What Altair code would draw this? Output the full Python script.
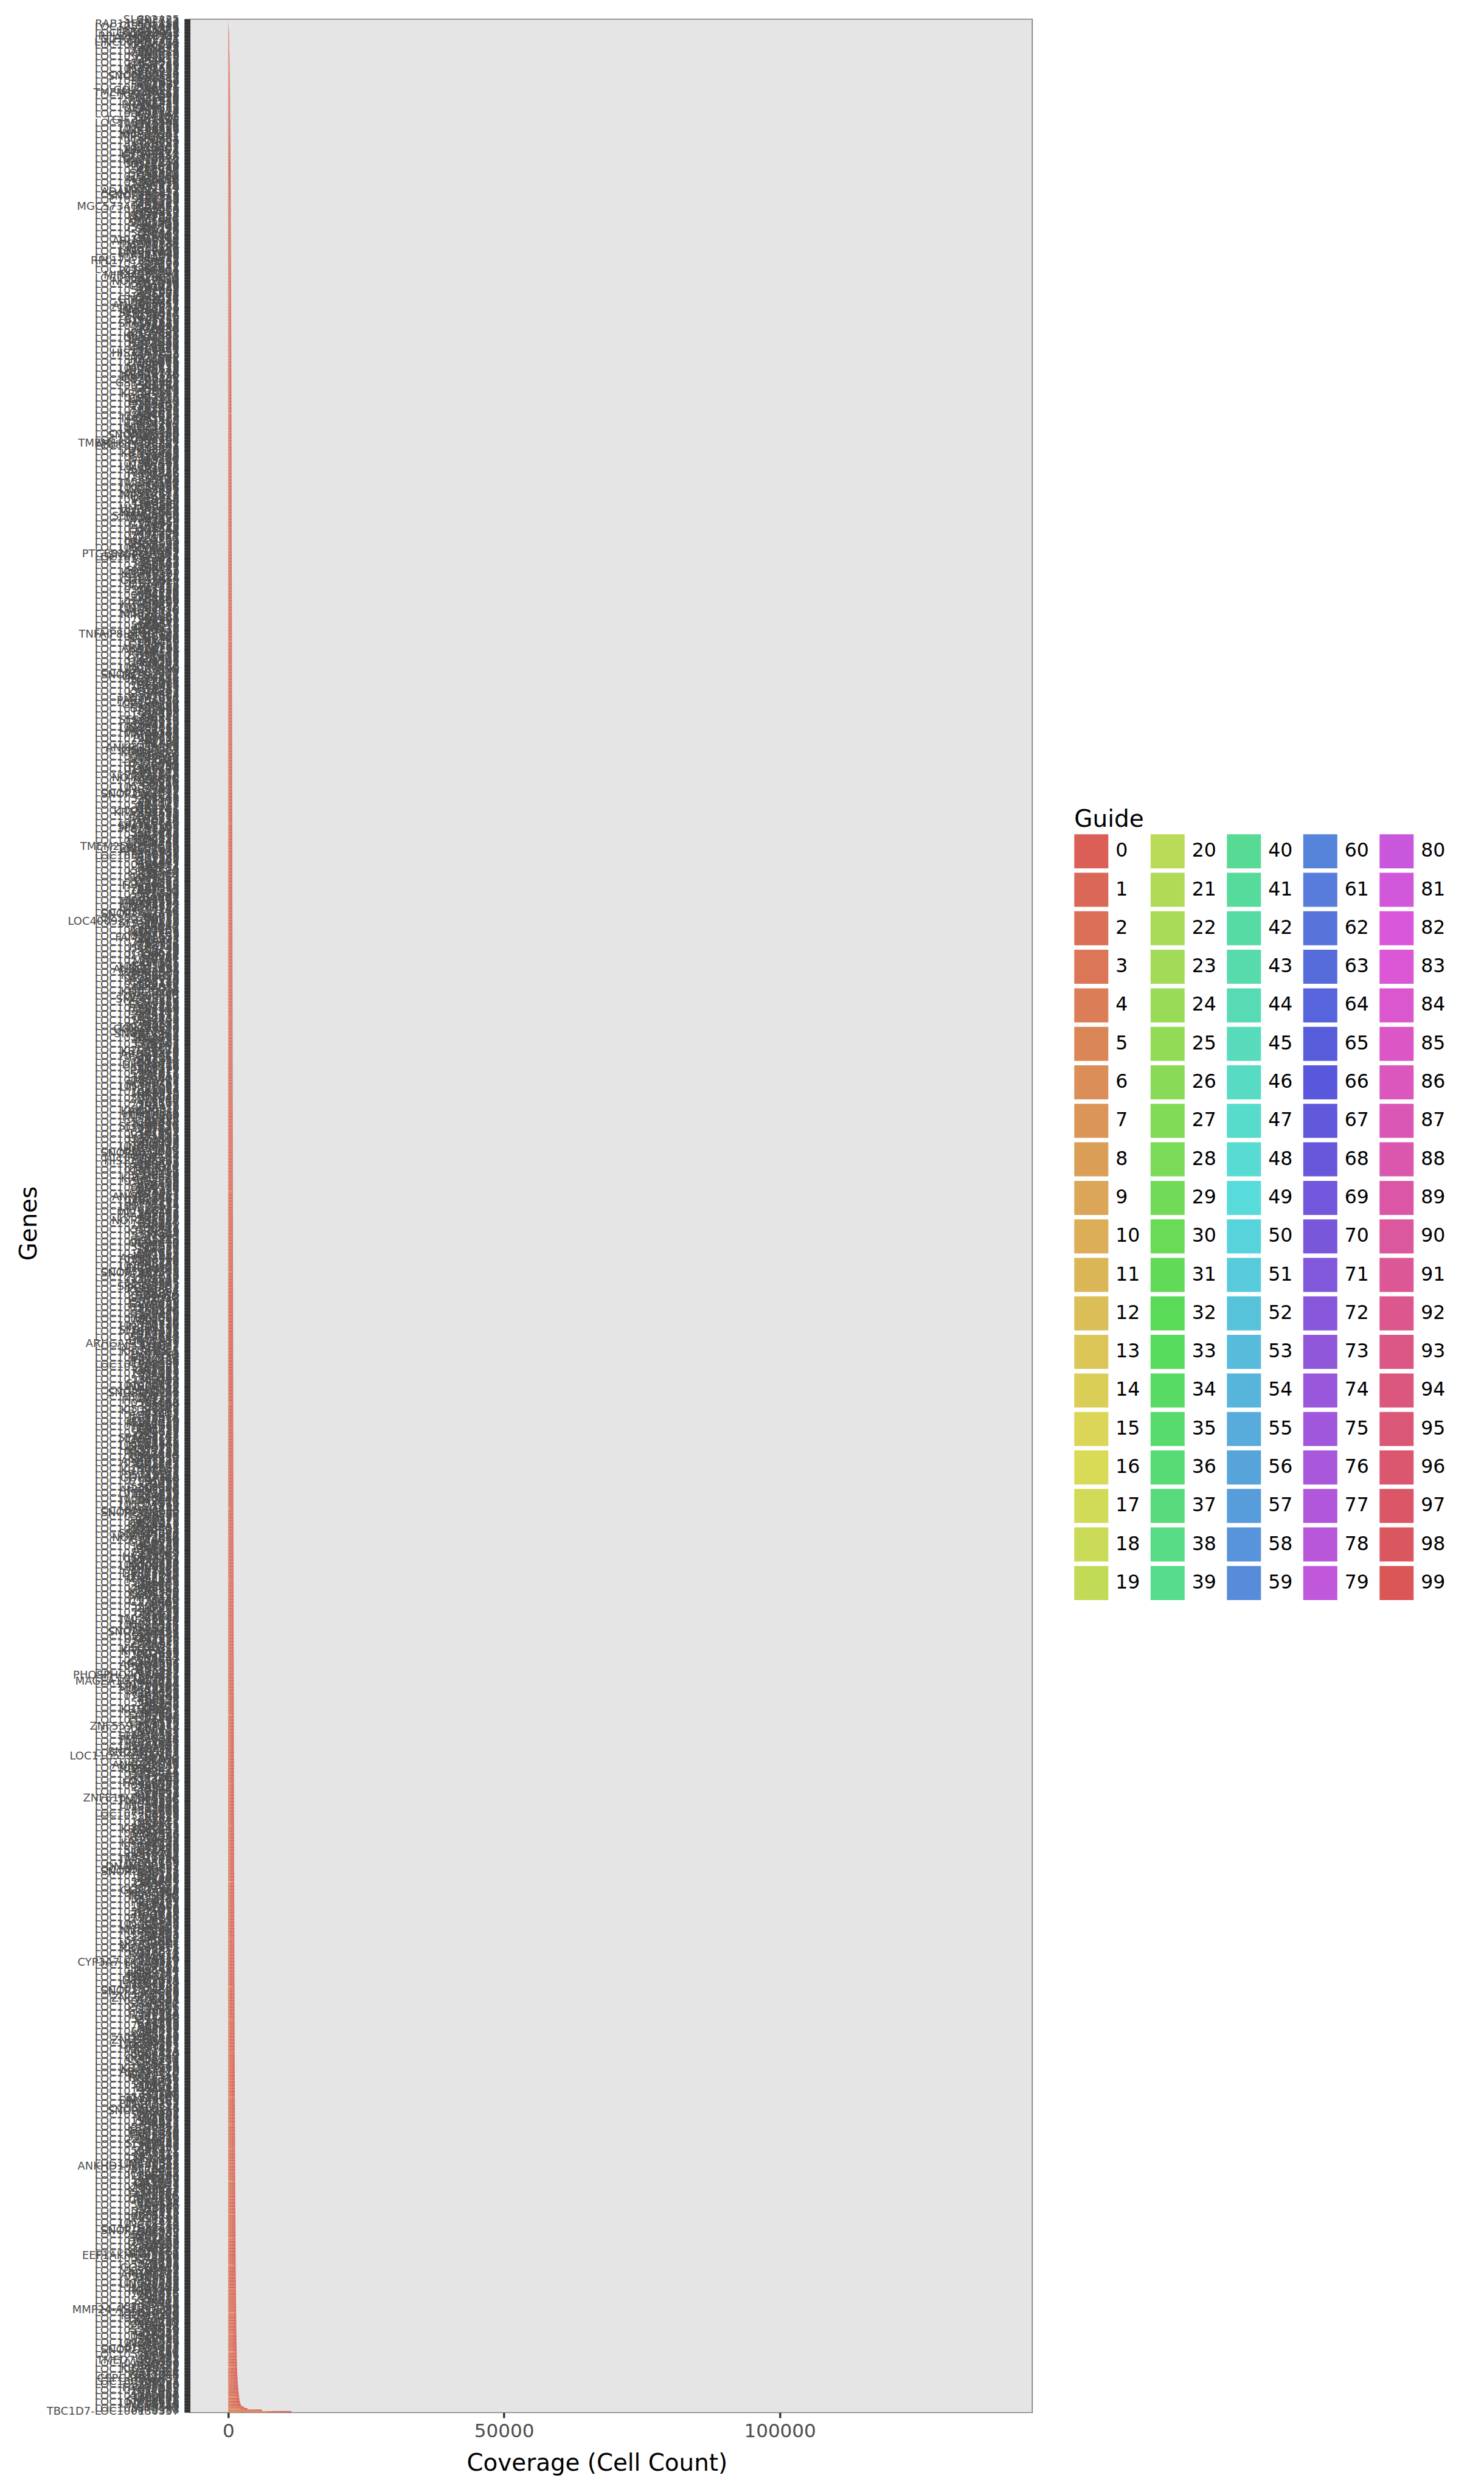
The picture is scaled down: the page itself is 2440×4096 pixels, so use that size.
import colorsys
import altair as alt
import pandas as pd

FONT = "DejaVu Sans"

genes_a = """
ZNF783 RAB11FIP1-AS1 LOC105377413 DGCR9 LOC101928441 RPL23AP53-DT LOC105369301 LINC00941-AS1 LOC100506098 FAM230J
LOC107984972 KRTAP9-6 LOC105374836 OR4K15 LOC101929528 C1orf229 LOC105371592 ZNF728 LOC100289230 SPDYE15
LOC105379194 TBC1D3L LOC107986321 GOLGA6L22 TMEM161B-AS1 LOC105372440 NBPF26 LOC101927934 PRAMEF25 LOC105378853
USP17L24 LOC100996842 FAM25G TGIF2-RAB5IF LOC105376382 OR2T29 LOC102723692 CT47A9 LOC105370941 SMIM41
LOC101928891 H3Y2 LOC105378101 TRIM49D2 LOC107984411 C17orf114 LOC105375520 GAGE12G LOC100131496 DEFB4B
LOC105373803 SPANXA2 LOC101927055 MAGEA9B LOC105369632 XAGE1A LOC105372819 ADAMTS9-AS2 LOC107985610 CCL3L3
LOC105371133 OR52E1 MGC57346-CRHR1 LOC101929089 TSPY10 LOC105377954 NPIPB13 LOC100505573 RGPD6 LOC105373247
FRG2B LOC105370562 CSAG2 LOC101928269 HSFX4 LOC105376741 SSX7 LOC107987218 TP53TG3F LOC105374116
RPL17-C18orf32 LOC101927700 VCX2 LOC105369884 OR8U9 MIR4435-2HG LOC105375013 NOTCH2NLR LOC100287534 DUX4L9
LOC105372098 POTEB2 LOC101929372 GTF2IRD2B LOC105378447 ANKRD20A2 LOC107985031 FAM90A2P LOC105371877 CTAGE8
LOC101928136 SPATA31A5 LOC105376095 TCEB3C LOC100130872 GOLGA8S LOC105370317 PSG11 LOC105373592 ZNF658B
LOC101926941 HIST2H3PS2 LOC105377630 TBC1D3K LOC107986854 NBPF19 LOC105374429 ERVV-2 LOC101929773 PCDHB19P
LOC105372761 GS1-24F4.2 LOC100506963 SPRR2G LOC105375858 OR51A4 LOC101927516 KRTAP4-9 LOC105369147 MT1DP
LOC105378236 C15orf54 LOC107984699 TMEM14EP LOC105371308 PRR20C LOC101928583 CXorf51B LOC105376980 FAM21EP
LOC100996654 TMEM189-UBE2V1 LOC105373961 UGT2B28 LOC101929236 C15orf65 LOC105370788 EOLA2 LOC107987493 LINC01124
LOC105374652 RHOXF2B LOC101927290 ZXDA LOC105377181 SMN2 LOC100128288 OR4F29 LOC105372357 CT45A10
LOC101928754 GAGE2E LOC105375294 HNRNPCL3 LOC107985875 MAGEB6B LOC105369590 DAZ4 LOC101929953 TSPY8
LOC105378662 FAM236C LOC105371721 STRC LOC100505839 ZNF890P LOC105376529 SPANXN5 PTGES3L-AARSD1 LOC101927826
LOC105373415 OR2A42 LOC107986190 NPIPA7 LOC105370152 CYP4F30P LOC101928012 GOLGA6L9 LOC105374973 USP17L15
LOC105377802 PAGE2B LOC100288123 TRIM64B LOC105372606 KRTAP10-7 LOC101929615 AMY1C LOC105375742 CCL4L2
LOC107984245 XKRY2 LOC105369011 RBMY1F LOC101927149 TNFAIP8L2-SCNM1 LOC105378019 NBPF8 LOC105371459 SPDYE6
LOC100996251 PRAMEF9 LOC105376236 OR11H12 LOC101928395 FAM47A LOC105373688 ZNF705G LOC107987037 DEFB130B
LOC105370423 TBC1D3F LOC101929164 CT45A3 LOC105374281 LAGE3 LOC105377067 PABPC1L2B LOC100129722 OR10J3
LOC105372992 H2BW3P LOC101927463 SSX4B LOC105375116 GAGE10 LOC107985388 MAGEA2B LOC105369763 HSFY1
LOC101928620 VCX3B LOC105378568 ANKRD36BP1 LOC105371067 SPANXD LOC100506311 POTEI LOC105376866 TP53TG3D
LOC101929407 USP17L11 LOC105373127 NOTCH2NLC LOC107986678 FRG2C LOC105370699 CSAG3 LOC101927977 OR4C45
LOC105374507 RGPD3 LOC105377345 ERVW-1 LOC100132146 ZNF595 LOC105372218 CDY2A LOC101928833 SPATA31C1
LOC105375389 TSPY3 LOC107984883 XAGE1B LOC105369426 GOLGA8R TMEM256-PLSCR3 LOC101927618 PSG5 LOC105378306
LOC105371985 DUX4L7 LOC100505912 NBPF14 LOC105376123 RBMY1J LOC101929881 OR5H14 LOC105373874 FAM90A26
LOC107987304 TRIM51G LOC105370034 C21orf62 LOC101928168 PRAMEF14 LOC105374395 CT47A4 LOC105377524 H4C13
LOC100288778 LOC400927-CSNK1E LOC105372875 SPANXC LOC101927234 MAGEC3 LOC105375671 GAGE13 LOC107985702 ZNF736
LOC105369255 DAZ2 LOC101928947 VCY1B LOC105378741 OR1D5 LOC105371249 ANKRD30BL LOC100996520 KRTAP21-3
LOC105376044 USP17L20 LOC101929497 NPIPB15 LOC105373336 TBC1D3H LOC107986033 SMIM10L2B LOC105370886 FAM231A
LOC101927382 PRR23D1 LOC105374757 CT45A7 LOC105377290 HSFX3 LOC100129034 GOLGA6L10 LOC105372512 OR52N4
LOC101928714 RHOXF2 LOC105375201 TSPY4 LOC107984528 SSX2B LOC105369917 CCL3L1 LOC101929046 DEFB103B
LOC105378190 LAGE3P1 LOC105371616 MAGEA6 LOC100506712 SPDYE3 LOC105376603 GAGE4 LOC101927093 NBPF10
LOC105373049 XKR3 LOC107985145 ZNF479 LOC105370511 PRAMEF6 LOC101928304 POTEF LOC105374832 TRIM49C
LOC105377176 OR9G9 LOC100131254 CSAG1 LOC105372697 RGPD4 LOC101929724 FAM25C LOC105375934 SPANXN2
LOC107987119 HIST1H2BPS1 LOC105369678 TP53TG3C LOC101927761 CDY1B LOC105378420 KRTAP5-11 LOC105371398 OR4N4
LOC100996383 DUX4L5 LOC105376307 ANKRD20A3 LOC101928542 USP17L17 LOC105373524 FRG2 LOC107986487 ZNF658
LOC105370265 NOTCH2NLA LOC101929310 SMN1 LOC105374146 PSG9 LOC105377863 TSPY2 LOC100505479 RBMY1B
LOC105372054 XAGE2 LOC101927545 MAGEA3 LOC105375562 OR2T5 LOC107984137 ERVK13-1 LOC105369389 CT47A11
LOC101928079 GOLGA8K LOC105378875 SPATA31D3 LOC105371834 PRR20A LOC100130475 GTF2H2C LOC105376450 FAM90A1
LOC101929852 TBC1D3C LOC105373279 NPIPB9 LOC107985567 AMY1B LOC105370739 HSFY2 LOC101927308 DEFB4A
LOC105374628 SPANXB1 ARHGAP19-SLIT1 LOC105377012 GAGE1 LOC100287015 ZNF705D LOC105372784 TRIM43B LOC101928999
LOC105375027 OR51B5 LOC107986919 CCL4L1 LOC105369560 VCX LOC101929183 NBPF12 LOC105378331 KRTAP9-8
LOC105371102 PRAMEF10 LOC100506888 SSX6P LOC105376778 RGPD5 LOC101927441 TCEB3CL LOC105373713 MAGEB10
LOC107984762 USP17L3 LOC105370047 ZNF717 LOC101928658 CT45A5 LOC105374919 POTEE LOC105377735 FAM236A
LOC100129515 SPDYE2B LOC105372243 OR4F17 LOC101929553 TSPY1 LOC105375318 GOLGA6L2 LOC107987380 DAZ1
LOC105369802 ANKRD36C LOC101927872 CSAG2P LOC105378609 H3C15 LOC105371574 XKRY LOC100996139 TP53TG3B
LOC105376191 RHOXF1 LOC101928218 SPANXA1 LOC105373455 OR8B4 LOC107985981 NOTCH2NLB LOC105370601 CDY2B
LOC101929699 PRR23A LOC105374063 GAGE12J LOC105377451 TRIM64 LOC100505681 SMIM11B LOC105372930 DEFB108B
LOC101927159 MAGEA12 LOC105375789 NBPF11 LOC107986576 ZNF890 LOC105369223 FAM47B LOC101928489 PSG3
LOC105378052 RBMY1E LOC105371690 OR52I2 LOC100288240 SSX1 LOC105376917 TBC1D3B LOC101929264 CT47A2
LOC105373598 USP17L10 LOC107984316 XAGE3 LOC105370378 KRTAP4-16 LOC101927699 HSFX1 LOC105374481 GOLGA8T
LOC105377258 DUX4L3 LOC100132287 PHOSPHO2-KLHL23 LOC105372409 MAGEA10-MAGEA5 LOC101928864 SPATA31A3 LOC105375466 OR10A6
LOC107985244 TSPY9P LOC105369045 ZNF726 LOC101929537 NPIPA5 LOC105378997 FRG2DP LOC105371155 CCL23
ZNF559-ZNF177 LOC100506154 VCY LOC105376338 STAG3L4 LOC101927014 RGPD8 LOC105373182 PRAMEF5 LOC107986745
LOC110599583-AS1 SPANXN1 LOC105370810 ANKRD20A1 LOC101928127 GAGE2A LOC105374715 POTEJ LOC105377601 FAM90A5P
LOC100996795 TRIM49 LOC105372661 OR2T10 ZNF816-ZNF321P LOC101929806 CT45A1 LOC105375649 DAZ3 LOC107984608
LOC105369518 SSX5 LOC101927327 NBPF15 LOC105378143 MAGEB2 LOC105371933 TSPY26P LOC100130948 KRTAP13-4
LOC105376560 H2AB2 LOC101928713 USP17L7 LOC105373967 XKR9 LOC107987176 DNAJC27-AS1 LOC105370193 SPDYE1
LOC101929438 PRR20E LOC105374289 OR4C11 LOC105377906 GOLGA6L6 LOC100505867 TBC1D3G LOC105372130 HSFY1P1
LOC101927602 CDY1 LOC105375230 ZNF733P LOC107986109 PSG4 LOC105369973 GAGE7 LOC101928351 TP53TG3
LOC105378793 OR8U1 LOC105371027 NOTCH2NL LOC100288615 SERF1A LOC105376012 VCX3A LOC101929119 CYP3A7-CYP3A51P
LOC105373351 FAM25A LOC107984987 RBMY1A1 LOC105370474 DEFB107A LOC101927230 MAGEA4 LOC105374846 XAGE5
LOC105377389 ZNF503-AS2 LOC100129603 SPANXB2 LOC105372566 TRIM51 LOC101928942 OR52A5 LOC105375083 CT47B1
LOC107985839 NBPF20 LOC105369711 USP17L5 LOC101929602 ZNF571-AS1 LOC105378257 PRAMEF1 LOC105371483 AMY1A
LOC100996912 GOLGA8N LOC105376254 SSX3 LOC101927119 TSPY7P LOC105373810 KRTAP2-2 LOC107986316 RGPD1
LOC105370945 DUX4L2 LOC101928276 POTEG LOC105374030 SPATA31E1 LOC105377775 CCL4 LOC100506271 FRG1BP
LOC105372305 MAGEC1 LOC101929921 OR4K1 LOC105375957 HSFX2 LOC107984459 TBC1D3E LOC105369862 ZNF83
LOC101927840 GAGE6 LOC105378471 NPIPB11 LOC105371767 CDY2 LOC100131878 ANKHD1-EIF4EBP3 LOC105376896 PSG1
LOC101928584 SPDYE5 LOC105373039 OR11H1 LOC107985429 TRIM43 LOC105370627 FAM21C LOC101929340 LAGE3L
LOC105374587 NBPF9 LOC105377142 USP17L2 LOC100505715 SSX2 LOC105372478 CT45A6 LOC101927488 DEFB4P
LOC105375704 SPANXN4 LOC107986883 TSPY6P LOC105369390 MAGEA1 LOC101928661 EEF1AKMT4-ECE2 LOC105378929 OR1S2
LOC105371248 GOLGA6L4 LOC100287177 PRAMEF2 LOC105376681 ZNF680 LOC101929088 H4C15 LOC105373246 RBMY2FP
LOC107984075 XAGE1E LOC105370358 VCY1A LOC101927554 MMP24-AS1-EDEM2 LOC105374996 KRTAP10-9 LOC105377468 TBC1D3D
LOC100996442 GAGE8 LOC105372840 OR2A7 LOC101928418 SERF1B LOC105375391 HSFY3P LOC107985013 POTEC
LOC105369137 NBPF1 TMED7-TICAM2 LOC101929760 SPANXE LOC105378684 USP17L1 LOC105371005 CSPG4P12-AS1 LOC100506637
LOC105376423 FAM90A7P LOC101927901 ZNF705A LOC105373987 MAGEB1 LOC107986641 CT47A6 LOC105370092 TBC1D7-LOC100130357
""".split()

genes_b = """
SLC22A25 ZNF114 CCDC144B OR4F5 LRRC37A4P KRTAP1-4 ARHGEF34P FAM138A RNF217 C9orf147
DNAH17 ZNF519 MUC20 OR2L13 CDH12 TMEM269 PCDHA13 LINC01002 KLHL34 SNORD115-4
FBXO47 ZNF850 WDR87 OR6C76 USP29 KRTAP19-5 TBC1D29 FAM157B NLRP11 C2orf92
SERPINA9 ZNF724 CYP2A7 OR13C5 UGT1A5 TMEM225B ADAM21 LINC00869 HLA-DQA2 MIR3179-1
IGHV3-64 ZNF99 TRBV20-1 OR5AC2 KIR2DL5A KRTAP20-2 LILRA6 FAM197Y2 SIGLEC14 C4orf46
CLEC4F ZNF492 CD300LD OR1L8 IL36RN TMEM236 CCR10 LINC01361 CXCL17 SNORD116-9
GPR150 ZNF100 TAS2R43 OR7E24 ABCA10 KRTAP6-3 SPATA32 FAM166C SLC35G6 C8orf89
CCDC196 ZNF430 LRRC53 OR10G7 ARHGAP11B TMEM238L RNF212B LINC00896 DNAH10OS MIR5096
MUC21 ZNF91 CDH20 OR2B11 PCDHGA11 KRTAP22-1 KLHL33 FAM138D FBXO39 C10orf71
WDR49 ZNF681 USP26 OR5B21 TBC1D21 TMEM72 NLRP13 LINC01410 SERPINB11 SNORD3C
CYP4F24P ZNF626 UGT2B11 OR6K3 ADAM30 KRTAP3-3 HLA-DRB5 FAM182B IGKV1-39 C11orf96
TRAV8-3 ZNF257 KIR3DL3 OR8H2 LILRB5 TMEM211 SIGLEC12 LINC00518 CLEC17A MIR4477B
CD200R1L ZNF682 IL17RE OR4A47 CCL15 KRTAP12-1 CXCL3 FAM223A GPR148 C12orf71
TAS2R46 ZNF675 ABCC13 OR56A3 SPATA19 TMEM213 SLC25A52 LINC01250 CCDC168 SNORD114-3
LRRC10B ZNF708 ARHGEF26-AS1 OR1J4 RNF223 KRTAP25-1 DNAH9 FAM230C MUC22 C16orf95
CDH26 ZNF737 PCDHB16 OR9Q2 KLHL10 TMEM255B FBXO24 LINC02081 WDR72 MIR1302-2
USP17L8 ZNF66 TBC1D3I OR2M4 NLRP9 KRTAP27-1 SERPINA13P FAM71E2 CYP2G1P C17orf98
UGT2A3 ZNF254 ADAM20 OR10K1 HLA-DPB2 TMEM174 IGLV3-21 LINC00676 TRGV9 SNORD113-7
KIR2DS4 ZNF43 LILRA3 OR51V1 SIGLEC11 KRTAP19-7 CLEC2L FAM74A4 CD1E C18orf63
IL1F10 ZNF486 CCL14 OR52B4 CXCL6 TMEM202 GPR32 LINC01539 TAS2R20 MIR6859-1
ABCB5 ZNF569 SPATA8 OR4D10 SLC6A18 KRTAP5-3 CCDC185 FAM170B LRRC30 C19orf81
ARHGEF5L ZNF98 RNF133 OR6N2 DNAH8 TMEM207 MUC7 LINC00470 CDH9 SNORD115-22
PCDHA11 ZNF780B KLHL1 OR5M10 FBXO15 KRTAP9-2 WDR64 FAM201A USP44 C20orf203
TBC1D8B ZNF160 NLRP8 OR1E3 SERPINB12 TMEM233 CYP4A22 LINC01163 UGT1A8 MIR4436A
ADAM32 ZNF208 HLA-G OR8K5 IGHV1-69 KRTAP13-2 TRBV7-9 FAM209B KIR2DL1 C22orf42
LILRB3 ZNF670 SIGLEC8 OR2G6 CLEC4C TMEM215 CD8B2 LINC00310 IL22RA2 SNORD114-11
CCL16 ZNF716 CXCL11 OR13A1 GPR141 KRTAP10-11 TAS2R50 FAM225B ABCA13 C1orf146
SPATA31D1 ZNF525 SLC10A5 OR7A10 CCDC177 TMEM247 LRRC36 LINC01376 ARHGAP40 MIR3972
RNF148 ZNF253 DNAH5 OR4X2 MUC16 KRTAP2-4 CDH18 FAM27E3 PCDHB3 C3orf84
KLHL14 ZNF732 FBXO40 OR10H4 WDR27 TMEM229A USP32P2 LINC00924 TBC1D10C SNORD116-18
NLRP4 ZNF85 SERPINA10 OR6B2 CYP11B2 KRTAP4-6 UGT3A1 FAM90A13P ADAM7 C5orf58
HLA-DOB ZNF90 IGKV2-30 OR9A4 TRAJ61 TMEM181 KIR3DS1 LINC01191 LILRA5 MIR4508
SIGLEC15 ZNF729 CLEC12B OR2AT4 CD5L KRTAP16-1 IL9R FAM71F2 CCL24 C6orf141
CXCL9 ZNF676 GPR119 OR5T3 TAS2R39 TMEM244 ABCG8 LINC00664 SPATA16 SNORD3B-1
SLC5A12 ZNF493 CCDC13 OR1N1 LRRC18 KRTAP24-1 ARHGEF15 FAM106A RNF152 C7orf77
DNAH14 ZNF429 MUC17 OR8A1 CDH22 TMEM212 PCDHGB7 LINC01081 KLHL4 MIR6723
FBXO36 ZNF680B WDR17 OR51T1 USP50 KRTAP11-1 TBC1D2B FAM86B3P NLRP6 C8orf74
SERPINB13 ZNF627 CYP26C1 OR10X1 UGT1A10 TMEM190 ADAM18 LINC00484 HLA-DRB3 SNORD114-25
IGHV4-34 ZNF101 TRBV6-5 OR2W5 KIR2DL4 KRTAP1-5 LILRA4 FAM87B SIGLEC6 C9orf153
CLEC1B ZNF738 CD163L1 OR4K17 IL12RB2 TMEM261 CCL1 LINC01029 CXCL13 MIR5692C1
GPR78 ZNF107 TAS2R1 OR6S1 ABCA12 KRTAP5-9 SPATA4 FAM95C SLC17A3 C10orf90
CCDC39 ZNF273 LRRC66 OR11L1 ARHGAP28 TMEM52B RNF183 LINC00958 DNAH3 SNORD116-25
MUC19 ZNF117 CDH7 OR5K3 PCDHAC1 KRTAP8-1 KLHL6 FAM66D FBXO43 C11orf88
WDR38 ZNF138 USP6 OR2A25 TBC1D26 TMEM235 NLRP2B LINC01268 SERPINA11 MIR3936
CYP3A43 ZNF141 UGT2B10 OR4M2 ADAM2 KRTAP29-1 HLA-L FAM83C IGLV1-44 C12orf42
TRDV1 ZNF195 KIR2DS2 OR1K1 LILRB4 TMEM52 SIGLEC10 LINC00354 CLEC6A SNORD113-2
CD177 ZNF221 IL31RA OR8D4 CCL25 KRTAP23-1 CXCL5 FAM181A GPR26 C14orf39
TAS2R60 ZNF230 ABCC12 OR52K2 SPATA31C2 TMEM171 SLC13A1 LINC00520 CCDC150 MIR1268A
LRRC4C ZNF283 ARHGEF37 OR10C1 RNF180 KRTAP21-2 DNAH2 FAM218A MUC4 C15orf62
CDH19 ZNF300 PCDHB10 OR2T35 KLHL31 TMEM200C FBXO16 LINC01197 WDR88 SNORD115-40
USP9Y ZNF320 TBC1D28 OR14A16 NLRP14 KRTAP6-2 SERPINB10 FAM228A CYP2C18 C16orf90
UGT1A3 ZNF347 ADAM29 OR7G3 HLA-DQB2 TMEM114 IGKV3-20 LINC00665 TRGC2 MIR4453
KIR3DL2 ZNF354C LILRA2 OR4C6 SIGLEC7 KRTAP9-4 CLEC18B FAM179A CD1B C17orf64
IL5RA ZNF404 CCL11 OR5D13 CXCL2 TMEM151B GPR31 LINC01315 TAS2R7 SNORD116-4
ABCB11 ZNF419 SPATA22 OR6Y1 SLC2A14 KRTAP10-4 CCDC63 FAM24A LRRC43 C19orf84
ARHGAP36 ZNF433 RNF175 OR9I1 DNAH11 TMEM155 MUC3A LINC00482 CDH8 MIR6801
PCDHGA3 ZNF440 KLHL38 OR2H2 FBXO4 KRTAP19-3 WDR31 FAM205A USP43 C20orf96
TBC1D19 ZNF454 NLRP12 OR5AU1 SERPINA12 TMEM178B CYP4Z1 LINC01091 UGT2A1 SNORD114-7
ADAM3A ZNF460 HLA-H OR1M1 IGHV3-30 KRTAP4-11 TRBV5-1 FAM19A5 KIR2DL3 C21orf58
LILRB1 ZNF470 SIGLEC5 OR8J3 CLEC4E TMEM150C CD209 LINC00922 IL20RB MIR3690
CCL18 ZNF483 CXCL1 OR51G1 GPR15 KRTAP12-3 TAS2R14 FAM230E ABCA9 C22orf31
SPATA45 ZNF488 SLC22A10 OR10Q1 CCDC105 TMEM132C LRRC69 LINC00607 ARHGEF4 SNORD115-11
RNF186 ZNF491 DNAH6 OR2AG1 MUC12 KRTAP5-1 CDH4 FAM135B PCDHA2 C1orf87
KLHL23 ZNF506 FBXO10 OR4D11 WDR86 TMEM130 USP18 LINC01108 TBC1D9 MIR4435-1
NLRP5 ZNF510 SERPINB4 OR6C4 CYP2F1 KRTAP26-1 UGT2B15 FAM167A ADAM11 C2orf81
HLA-DPA2 ZNF514 IGLV2-14 OR13F1 TRAV12-2 TMEM125 KIR2DP1 LINC00841 LILRP2 SNORD116-28
SIGLEC9 ZNF521 CLEC3A OR5H2 CD1C KRTAP7-1 IL3RA FAM153A CCL20 C3orf56
CXCL10 ZNF530 GPR82 OR2Y1 TAS2R30 TMEM119 ABCB4 LINC01305 SPATA21 MIR3150A
SLC6A20 ZNF541 CCDC172 OR4F21 LRRC3B KRTAP20-4 ARHGAP20 FAM131C RNF113B C4orf51
DNAH12 ZNF548 MUC15 OR1S1 CDH6 TMEM108 PCDHGC5 LINC00392 KLHL13 SNORD113-9
FBXO41 ZNF556 WDR93 OR8B12 USP45 KRTAP2-3 TBC1D30 FAM124B NLRP10 C5orf49
SERPINA7 ZNF558 CYP1A2 OR52L1 UGT1A9 TMEM105 ADAM12 LINC00557 HLA-F MIR4538
IGHV5-51 ZNF560 TRBV9 OR10D3 KIR3DL1 KRTAP3-2 LILRA1 FAM118A SIGLEC1 C6orf118
CLEC9A ZNF565 CD300E OR2T3 IL18RAP TMEM101 CCL8 LINC01234 CXCL14 SNORD115-30
GPR183 ZNF573 TAS2R41 OR14C36 ABCG5 KRTAP9-9 SPATA3 FAM111B SLC26A8 C7orf31
CCDC81 ZNF578 LRRC9 OR7D4 ARHGEF38 TMEM95 RNF151 LINC00702 DNAH7 MIR6727
MUC5B ZNF583 CDH17 OR4C3 PCDHB5 KRTAP10-6 KLHL18 FAM110C FBXO48 C8orf48
WDR63 ZNF585A USP35 OR5D16 TBC1D32 TMEM92 NLRP3 LINC01352 SERPINB7 SNORD116-12
CYP8B1 ZNF596 UGT3A2 OR6X1 ADAM19 KRTAP19-1 HLA-E FAM104B IGKV1-5 C9orf57
TRGV4 ZNF600 KIR2DS5 OR9K2 LILRB2 TMEM89 SIGLEC16 LINC00519 CLEC4D MIR5588
""".split()

coverage = [
    8, 19, 33, 48, 62, 79, 97, 118,
    141, 146, 150, 155, 160, 165, 170, 174, 179, 184, 189, 193, 198, 203, 208, 212, 217, 222, 227, 232,
    236, 239, 244, 248, 251, 256, 260, 263, 268, 272, 275, 280, 284, 287, 292, 296, 299, 304, 308, 311, 316, 320, 323, 327,
    330, 332, 334, 336, 338, 340, 342, 344, 346, 348, 349, 351, 353, 355, 357, 359, 361, 363, 365, 367,
    369, 371, 373, 374, 376, 378, 380, 382, 384, 386, 388, 390, 392, 394, 396, 398, 399, 401, 403, 405,
    407, 409, 411, 413, 415, 417, 419, 421,
    423, 424, 425, 426, 428, 429, 430, 431, 432, 434, 435, 436, 437, 438, 440, 441, 442, 443, 444, 446,
    447, 448, 449, 450, 452, 453, 454, 455, 456, 458, 459, 460, 461, 462, 464, 465, 466, 467, 468, 470,
    471, 472, 473, 474, 476, 477, 478, 479, 480, 482, 483, 484, 485, 486, 488, 489, 490, 491, 492, 494,
    495, 496, 497, 498, 500, 501, 502, 503, 504, 506, 507, 508, 509, 510, 512, 513, 514, 515,
    517, 518, 518, 519, 520, 521, 521, 522, 523, 523, 524, 525, 526, 526, 527, 528, 528, 529, 530, 531,
    531, 532, 533, 534, 534, 535, 536, 536, 537, 538, 539, 539, 540, 541, 541, 542, 543, 544, 544, 545,
    546, 547, 547, 548, 549, 549, 550, 551, 552, 552, 553, 554, 554, 555, 556, 557, 557, 558, 559, 560,
    560, 561, 562, 562, 563, 564, 565, 565, 566, 567, 567, 568, 569, 570, 570, 571, 572, 573, 573, 574,
    575, 575, 576, 577, 578, 578, 579, 580, 580, 581, 582, 583, 583, 584, 585, 586, 586, 587, 588, 588,
    589, 590, 591, 591, 592, 593, 593, 594, 595, 596, 596, 597, 598, 599, 599, 600, 601, 601, 602, 603,
    604, 604, 605, 606, 606, 607, 608, 609, 609, 610,
    611, 611, 612, 612, 613, 613, 614, 614, 615, 615, 616, 616, 617, 617, 618, 618, 619, 619, 620, 620,
    621, 621, 622, 622, 623, 623, 624, 624, 625, 626, 626, 627, 627, 628, 628, 629, 629, 630, 630, 631,
    631, 632, 632, 633, 633, 634, 634, 635, 635, 636, 636, 637, 637, 638, 638, 639, 639, 640, 641, 641,
    642, 642, 643, 643, 644, 644, 645, 645, 646, 646, 647, 647, 648, 648, 649, 649, 650, 650, 651, 651,
    652, 652, 653, 653, 654, 654, 655, 656, 656, 657, 657, 658, 658, 659, 659, 660, 660, 661, 661, 662,
    662, 663, 663, 664, 664, 665, 665, 666, 666, 667, 667, 668, 668, 669, 669, 670, 671, 671, 672, 672,
    673, 673, 674, 674, 675, 675, 676, 676, 677, 677, 678, 678, 679, 679, 680, 680, 681, 681, 682, 682,
    683, 683, 684, 684, 685, 686, 686, 687, 687, 688, 688, 689, 689, 690, 690, 691, 691, 692, 692, 693,
    693, 694, 694, 695, 695, 696, 696, 697, 697, 698, 698, 699, 699, 700, 701, 701, 702, 702, 703, 703,
    704, 704, 705, 705, 706, 706, 707, 707, 707, 708, 708, 709, 709, 710, 710, 711, 711, 711, 712, 712,
    713, 713, 714, 714, 715, 715, 715, 716, 716, 717, 717, 718, 718, 719, 719, 719, 720, 720, 721, 721,
    722, 722, 723, 723, 723, 724, 724, 725, 725, 726, 726, 727, 727, 727, 728, 728, 729, 729, 730, 730,
    731, 731, 731, 732, 732, 733, 733, 734, 734, 735, 735, 735, 736, 736, 737, 737, 738, 738, 739, 739,
    739, 740, 740, 741, 741, 742, 742, 743, 743, 743, 744, 744, 745, 745, 746, 746, 747, 747, 747, 748,
    748, 749, 749, 750, 750, 751, 751, 751, 752, 752, 753, 753, 754, 754, 755, 755, 755, 756, 756, 757,
    757, 758, 758, 759, 759, 759, 760, 760, 761, 761, 762, 762, 763, 763, 763, 764, 764, 765, 765, 766,
    766, 767, 767, 767, 768, 768, 769, 769, 770, 770, 771, 771, 771, 772, 772, 773, 773, 774, 774, 775,
    775, 775, 776, 776, 777, 777, 778, 778, 779, 779, 779, 780, 780, 781, 781, 782, 782, 783, 783, 783,
    784, 784, 785, 785, 786, 786, 787, 787, 787, 788, 788, 789, 789, 790, 790, 791, 791, 791, 792, 792,
    793, 793, 794, 794, 795, 795, 795, 796, 796, 797,
    798, 798, 799, 799, 800, 800, 801, 801, 801, 802, 802, 803, 803, 804, 804, 805, 805, 805, 806, 806,
    807, 807, 808, 808, 809, 809, 809, 810, 810, 811, 811, 812, 812, 813, 813, 813, 814, 814, 815, 815,
    816, 816, 817, 817, 817, 818, 818, 819, 819, 820, 820, 821, 821, 821, 822, 822, 823, 823, 824, 824,
    825, 825, 825, 826, 826, 827, 827, 828, 828, 829, 829, 829, 830, 830, 831, 831, 832, 832, 833, 833,
    833, 834, 834, 835, 835, 836, 836, 837, 837, 837, 838, 838, 839, 839, 840, 840, 841, 841, 841, 842,
    842, 843, 843, 844, 844, 845, 845, 845, 846, 846, 847, 847, 848, 848, 849, 849, 849, 850, 850, 851,
    851, 852, 852, 853, 853, 853, 854, 854, 855, 855, 856, 856, 857, 857, 857, 858, 858, 859, 859, 860,
    860, 861, 861, 861, 862, 862, 863, 863, 864, 864, 865, 865, 865, 866, 866, 867, 867, 868, 868, 869,
    869, 869, 870, 870, 871, 871, 872, 872, 873, 873, 873, 874, 874, 875, 875, 876, 876, 877, 877, 877,
    878, 878, 879, 879, 880, 880, 881, 881, 881, 882, 882, 883, 883, 884, 884, 885, 885, 885, 886, 886,
    887, 887, 888, 888, 889, 889, 889, 890, 890, 891,
    892, 892, 893, 893, 894, 894, 895, 895, 896, 896, 897, 897, 898, 898, 899, 899, 900, 900, 901, 901,
    902, 902, 903, 903, 904, 904, 905, 905, 906, 906, 907, 907, 908, 908, 909, 909, 910, 910, 911, 911,
    912, 912, 913, 913, 914, 914, 915, 915, 916, 916, 917, 917, 918, 918, 919, 919, 920, 920, 921, 921,
    922, 922, 923, 923, 924, 924, 925, 925, 926, 926, 927, 927, 928, 928, 929, 929, 930, 930, 931, 931,
    932, 932, 933, 933, 934, 934, 935, 935, 936, 936, 937, 937, 938, 938, 939, 939, 940, 940, 941, 941,
    942, 942, 943, 943, 944, 944, 945, 945, 946, 946, 947, 947, 948, 948, 949, 949, 950, 950, 951, 951,
    952, 952, 953, 953, 954, 954, 955, 955, 956, 956, 957, 957, 958, 958, 959, 959, 960, 960, 961, 961,
    962, 962, 963, 963, 964, 964, 965, 965, 966, 966, 967, 967, 968, 968, 969, 969, 970, 970, 971, 971,
    972, 972, 973, 973, 974, 974, 975, 975, 976, 976, 977, 977, 978, 978, 979, 979, 980, 980, 981, 981,
    982, 982, 983, 983, 984, 984, 984, 985, 985, 985, 985, 985,
    986, 987, 987, 988, 988, 989, 990, 990, 991, 991, 992, 993, 993, 994, 994, 995, 996, 996, 997, 997,
    998, 999, 999, 1000, 1001, 1001, 1002, 1002, 1003, 1004, 1004, 1005, 1005, 1006, 1007, 1007, 1008, 1008, 1009, 1010,
    1010, 1011, 1011, 1012, 1013, 1013, 1014, 1014, 1015, 1016, 1016, 1017, 1017, 1018, 1019, 1019, 1020, 1020, 1021, 1022,
    1022, 1023, 1023, 1024, 1025, 1025, 1026, 1026, 1027, 1028, 1028, 1029, 1029, 1030, 1031, 1031, 1032, 1032, 1033, 1034,
    1034, 1035, 1035, 1036, 1037, 1037, 1038, 1038, 1039, 1040, 1040, 1041, 1041, 1042, 1043, 1043, 1044, 1044, 1045, 1046,
    1046, 1047, 1047, 1048, 1049, 1049, 1050, 1050, 1051, 1052, 1052, 1053, 1053, 1054, 1055, 1055, 1056, 1056, 1057, 1058,
    1058, 1059, 1059, 1060, 1061, 1061, 1062, 1062, 1063, 1064, 1064, 1065, 1065, 1066, 1067, 1067, 1068, 1068, 1069, 1070,
    1070, 1071, 1071, 1072, 1073, 1073, 1074, 1074, 1075, 1076, 1077, 1079,
    1080, 1081, 1082, 1082, 1083, 1084, 1085, 1086, 1086, 1087, 1088, 1089, 1090, 1090, 1091, 1092, 1093, 1094, 1094, 1095,
    1096, 1097, 1098, 1098, 1099, 1100, 1101, 1102, 1102, 1103, 1104, 1105, 1106, 1106, 1107, 1108, 1109, 1110, 1110, 1111,
    1112, 1113, 1114, 1114, 1115, 1116, 1117, 1118, 1118, 1119, 1120, 1121, 1122, 1122, 1123, 1124, 1125, 1126, 1126, 1127,
    1128, 1129, 1130, 1130, 1131, 1132, 1133, 1134, 1134, 1135, 1136, 1137, 1138, 1138, 1139, 1140, 1141, 1142, 1142, 1143,
    1144, 1145, 1146, 1146, 1147, 1148, 1149, 1150, 1150, 1151, 1152, 1153, 1154, 1154, 1155, 1156, 1157, 1158, 1158, 1159,
    1160, 1161, 1162, 1162, 1163, 1164, 1165, 1166, 1166, 1167, 1168, 1169, 1170, 1172,
    1174, 1175, 1176, 1177, 1178, 1179, 1180, 1181, 1183, 1184, 1185, 1186, 1187, 1188, 1189, 1190, 1191, 1192, 1194, 1195,
    1196, 1197, 1198, 1199, 1200, 1201, 1202, 1203, 1205, 1206, 1207, 1208, 1209, 1210, 1211, 1212, 1213, 1214, 1216, 1217,
    1218, 1219, 1220, 1221, 1222, 1223, 1224, 1225, 1227, 1228, 1229, 1230, 1231, 1232, 1233, 1234, 1235, 1236, 1238, 1239,
    1240, 1241, 1242, 1243, 1244, 1245, 1246, 1247, 1249, 1250, 1251, 1252, 1253, 1254, 1255, 1256, 1257, 1258, 1260, 1261,
    1262, 1263, 1265, 1266,
    1267, 1269, 1271, 1272, 1274, 1276, 1277, 1279, 1281, 1282, 1284, 1286, 1287, 1289, 1291, 1292, 1294, 1296, 1297, 1299,
    1301, 1302, 1304, 1306, 1307, 1309, 1311, 1312, 1314, 1316, 1317, 1319, 1321, 1322, 1324, 1326, 1327, 1329, 1331, 1332,
    1334, 1336, 1337, 1339, 1341, 1342, 1344, 1346, 1347, 1349, 1351, 1352, 1354, 1356, 1358, 1360,
    1361, 1364, 1367, 1370, 1372, 1375, 1378, 1381, 1384, 1387, 1389, 1392, 1395, 1398, 1401, 1404, 1406, 1409, 1412, 1415,
    1418, 1420, 1423, 1426, 1429, 1432, 1435, 1437, 1440, 1443, 1446, 1449, 1451, 1454,
    1455, 1459, 1463, 1467, 1471, 1475, 1479, 1483, 1487, 1491, 1495, 1499, 1503, 1507, 1511, 1515, 1519, 1523, 1527, 1531,
    1535, 1539, 1543, 1547,
    1552, 1561, 1570, 1579, 1588, 1597, 1606, 1615, 1624, 1633,
    1645, 1660, 1675, 1690, 1705, 1720,
    1740, 1760, 1780, 1800,
    1835, 1855, 1875, 1900,
    1930, 1955, 1985,
    2040, 2090, 2158, 2250, 2440, 2900, 3470, 6100, 11440,
]

guide_share = [0.28, 0.26, 0.24, 0.22]
extra_gene = [263, 415, 537, 667, 783, 837, 925, 995, 1043, 1097, 1133, 1179, 1207, 1245, 1283, 1315, 1337,
              1359, 1389, 1407, 1423, 1445, 1467, 1483, 1501, 1517, 1533, 1547, 1559, 1569, 1589, 1597, 1599]
extra_guide = [7, 6, 8, 5, 7, 9, 6, 8, 7, 5, 8, 6, 7, 9, 6, 8, 7,
               5, 6, 8, 7, 9, 6, 7, 8, 5, 7, 6, 8, 7, 6, 7, 6]
extra_count = [240, 280, 300, 330, 350, 300, 380, 400, 420, 430, 450, 460, 480, 500, 520, 540, 560,
               580, 600, 610, 640, 680, 700, 720, 750, 760, 800, 820, 840, 880, 1200, 2000, 7000]

x_ticks = [0, 50000, 100000]
x_domain = [-6942, 145782]
guide_levels = [str(i) for i in range(100)]

genes = [g for pair in zip(genes_b, genes_a) for g in pair]
assert len(genes) == len(coverage), (len(genes_a), len(genes_b), len(coverage))

keys = [f"{i:04d}|{g}" for i, g in enumerate(genes)]
extra = {g: (gd, c) for g, gd, c in zip(extra_gene, extra_guide, extra_count)}
rows = []
for i, (k, total) in enumerate(zip(keys, coverage)):
    rest = total
    if i in extra:
        gd, c = extra[i]
        rows.append({"key": k, "guide": str(gd), "guide_num": gd, "count": c})
        rest = total - c
    for gidx, share in enumerate(guide_share):
        rows.append({"key": k, "guide": str(gidx), "guide_num": gidx, "count": rest * share})
df = pd.DataFrame(rows)

palette = []
for i in range(100):
    r, g, b = colorsys.hls_to_rgb((i / 100 + 0.01) % 1.0, 0.6, 0.65)
    palette.append("#{:02x}{:02x}{:02x}".format(round(r * 255), round(g * 255), round(b * 255)))

chart = alt.Chart(df).mark_bar(strokeWidth=0).encode(
    y=alt.Y(
        "key:N", sort="ascending",
        scale=alt.Scale(paddingInner=0.1, paddingOuter=0.15),
        axis=alt.Axis(
            title="Genes", labelExpr="split(datum.label, '|')[1]",
            labelFont=FONT, labelFontSize=18, labelColor="#4D4D4D", labelPadding=8.5,
            labelLimit=600, labelOverlap=False,
            tickSize=9.4, tickWidth=3.4, tickColor="#333333", domain=False, grid=False,
            titleFont=FONT, titleFontSize=38.8, titleFontWeight="normal", titleColor="#000000",
            titleAngle=270, titleAlign="center", titleBaseline="alphabetic",
            titleX=-253, titleY=1979,
        ),
    ),
    x=alt.X(
        "count:Q", stack="zero",
        scale=alt.Scale(domain=x_domain, nice=False, zero=False),
        axis=alt.Axis(
            title="Coverage (Cell Count)", values=x_ticks, format="d",
            labelFont=FONT, labelFontSize=31, labelColor="#4D4D4D", labelPadding=7,
            labelFlush=False,
            tickSize=8.5, tickWidth=3.4, tickColor="#333333", domain=False, grid=False,
            titleFont=FONT, titleFontSize=38.8, titleFontWeight="normal", titleColor="#000000",
            titleAlign="center", titleBaseline="alphabetic", titleX=669, titleY=95,
        ),
    ),
    color=alt.Color(
        "guide:N",
        scale=alt.Scale(domain=guide_levels, range=palette),
        legend=alt.Legend(
            title="Guide", orient="none", legendX=1454, legendY=1296.7,
            columns=5, symbolLimit=100,
            symbolType="square", symbolSize=3136, symbolStrokeWidth=0, symbolOpacity=1,
            labelFont=FONT, labelFontSize=31.5, labelColor="#000000", labelOffset=12,
            rowPadding=7.3, columnPadding=16.5, padding=0, gridAlign="each",
            titleFont=FONT, titleFontSize=39, titleFontWeight="normal", titleColor="#000000",
            titlePadding=4,
        ),
    ),
    order=alt.Order("guide_num:Q", sort="descending"),
).properties(
    width=1385,
    height=3934,
    autosize=alt.AutoSizeParams(type="none"),
    padding={"left": 312.3, "top": 31.5, "right": 742.7, "bottom": 130.5},
).configure(font=FONT).configure_view(
    fill="#E5E5E5", stroke="#7F7F7F", strokeWidth=1.7
)

chart.save("out.html", embed_options={"renderer": "svg", "actions": False})
